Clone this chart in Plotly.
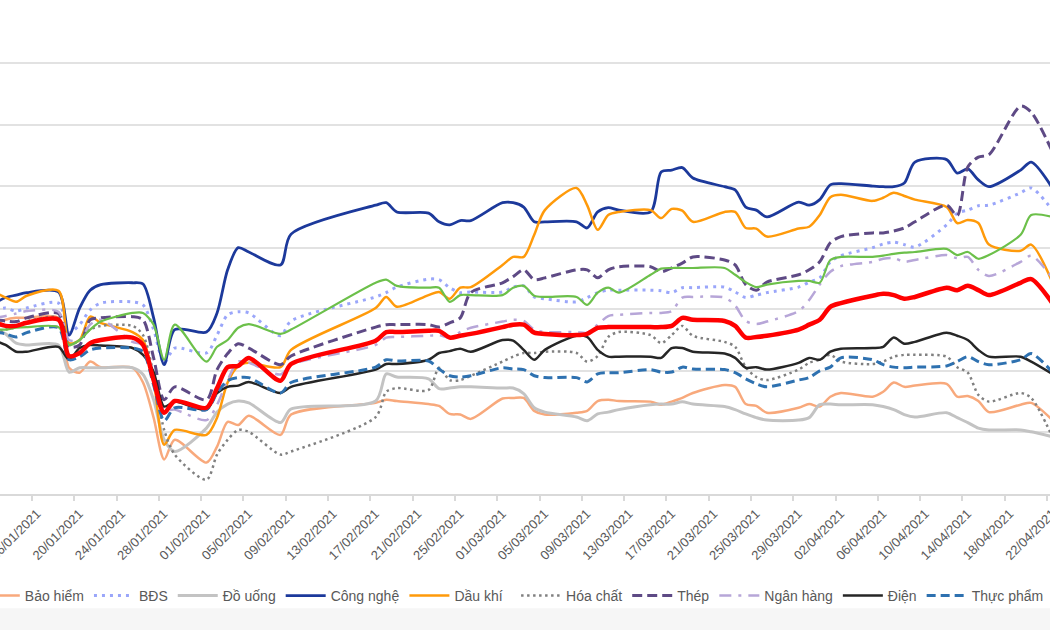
import pandas as pd
import plotly.graph_objects as go

dates = [
    "2021-01-12", "2021-01-13", "2021-01-14", "2021-01-15", "2021-01-18", "2021-01-19", "2021-01-20",
    "2021-01-21", "2021-01-22", "2021-01-25", "2021-01-26", "2021-01-27", "2021-01-28", "2021-01-29",
    "2021-02-01", "2021-02-02", "2021-02-03", "2021-02-04", "2021-02-05", "2021-02-08", "2021-02-09",
    "2021-02-17", "2021-02-18", "2021-02-19", "2021-02-22", "2021-02-23", "2021-02-24", "2021-02-25",
    "2021-02-26",
    "2021-03-01", "2021-03-02", "2021-03-03", "2021-03-04", "2021-03-05", "2021-03-08", "2021-03-09",
    "2021-03-10", "2021-03-11", "2021-03-12", "2021-03-15", "2021-03-16", "2021-03-17", "2021-03-18",
    "2021-03-19", "2021-03-22", "2021-03-23", "2021-03-24", "2021-03-25", "2021-03-26", "2021-03-29",
    "2021-03-30", "2021-03-31",
    "2021-04-01", "2021-04-02", "2021-04-05", "2021-04-06", "2021-04-07", "2021-04-08", "2021-04-09",
    "2021-04-12", "2021-04-13", "2021-04-14", "2021-04-15", "2021-04-16", "2021-04-19", "2021-04-20",
    "2021-04-22",
]

# Performance (%) of each sector index
bao_hiem = [7.5, 8.3, 8.6, 8.6, 8.6, 0.5, -0.3, 1.5, 0.6, 0.5, -1.9, -7.6, -14.4, -11.2,
            -14.9, -12.3, -8.3, -8.8, -7.3, -10.4, -7.1, -5.2, -4.7, -4.9, -5.4, -5.7, -7.0, -7.1, -7.8,
            -4.5, -4.4, -4.4, -6.5, -7.1, -6.8, -6.5, -4.9, -4.7, -4.9, -5.0, -5.5, -5.0, -4.4, -3.6, -2.3,
            -2.6, -5.4, -5.7, -6.8, -6.0, -5.4, -5.8,
            -4.2, -3.6, -4.2, -3.4, -1.9, -2.6, -2.4, -2.1, -4.2, -4.1, -4.9, -6.7, -5.5, -5.2, -8.0]
bds = [9.9, 10.2, 9.7, 10.2, 11.0, 6.2, 7.5, 9.9, 11.0, 11.2, 10.7, 6.7, 1.3, 3.7,
       2.9, 5.8, 9.1, 9.6, 9.4, 5.7, 8.1, 12.0, 12.7, 13.6, 14.9, 14.8, 13.5, 12.7, 12.8,
       12.8, 13.6, 13.8, 12.0, 11.7, 11.2, 11.9, 12.7, 13.1, 13.1, 13.1, 13.0, 12.7, 13.5, 13.5, 13.6,
       12.8, 11.9, 12.3, 12.7, 13.6, 14.4, 15.1,
       17.7, 18.7, 20.0, 20.6, 20.9, 20.5, 20.1, 23.7, 25.6, 26.1, 26.8, 26.9, 28.9, 29.7, 26.1]
do_uong = [6.7, 6.0, 4.5, 4.2, 4.2, -0.2, 0.5, 0.5, 0.5, 0.5, -0.6, -4.7, -11.2, -13.1,
           -9.3, -6.7, -5.4, -4.9, -5.2, -8.4, -6.2, -4.9, -0.5, -1.0, -1.3, -2.9, -2.8, -2.6, -2.6,
           -2.8, -2.8, -3.7, -6.0, -6.7, -7.5, -8.1, -7.0, -6.7, -6.3, -5.5, -5.4, -5.4, -5.0, -5.4, -5.8,
           -6.3, -7.0, -7.6, -8.0, -8.0, -7.6, -5.5,
           -5.4, -5.5, -5.5, -5.8, -6.3, -7.1, -7.5, -6.8, -7.6, -8.4, -9.3, -9.6, -9.6, -9.9, -10.7]
cong_nghe = [11.0, 11.9, 12.3, 12.7, 12.8, 5.8, 10.2, 13.1, 14.0, 14.3, 14.1, 8.6, 1.0, 6.7,
             6.3, 9.4, 16.4, 20.0, 19.3, 17.2, 22.2, 26.9, 27.3, 25.8, 25.6, 24.2, 23.7, 24.4, 24.4,
             27.3, 27.3, 26.6, 24.2, 24.2, 24.2, 23.2, 25.8, 26.5, 26.1, 25.8, 32.3, 32.6, 33.0, 31.3, 29.9,
             29.4, 26.6, 26.1, 25.0, 27.4, 26.9, 27.8,
             30.2, 30.4, 30.0, 29.9, 29.9, 30.5, 33.9, 34.3, 32.1, 32.8, 31.0, 29.9, 32.6, 33.9, 29.7]
dau_khi = [12.7, 11.9, 11.2, 12.2, 13.0, 4.5, 5.0, 8.8, 7.8, 6.3, 5.0, -1.5, -12.0, -9.6,
           -10.4, -7.6, -1.9, 0.8, 1.3, 0.6, 3.4, 10.2, 12.0, 10.4, 12.3, 12.8, 11.7, 13.5, 13.6,
           17.2, 18.5, 18.5, 22.1, 26.1, 29.7, 26.9, 22.9, 25.3, 25.8, 26.1, 24.8, 26.3, 26.0, 24.2, 25.8,
           25.8, 23.2, 23.1, 21.8, 23.1, 23.4, 25.3,
           28.2, 28.6, 27.6, 28.1, 28.9, 28.4, 27.8, 26.6, 24.0, 24.5, 24.0, 20.5, 19.5, 20.5, 14.4]
hoa_chat = [5.8, 6.7, 7.1, 8.0, 8.6, 4.2, 5.0, 6.7, 7.3, 7.3, 5.8, -0.6, -9.6, -13.6,
            -17.7, -13.6, -11.2, -9.6, -9.9, -13.6, -13.1, -7.5, -3.4, -2.8, -3.1, 0.5, -1.5, -1.5, -0.8,
            1.5, 2.3, 2.9, 2.9, 3.1, 2.9, 1.5, 2.4, 5.5, 6.3, 5.8, 4.5, 5.8, 7.3, 5.7, 4.7,
            3.9, 0.6, -1.0, -1.5, 0.2, 1.3, 1.8,
            2.6, 1.5, 1.1, 1.5, 2.3, 2.6, 2.6, 2.3, 0.6, -0.3, -3.9, -5.0, -3.6, -4.4, -10.7]
thep = [8.3, 8.1, 8.0, 8.6, 9.3, 3.9, 4.2, 8.3, 8.6, 8.8, 8.3, 2.1, -4.7, -2.6,
        -4.7, 0.2, 2.8, 4.4, 3.7, 1.0, 2.4, 7.1, 7.5, 7.5, 7.5, 7.1, 7.8, 8.6, 12.7,
        14.3, 15.3, 16.4, 14.8, 15.1, 16.4, 16.4, 15.1, 16.4, 16.9, 16.9, 16.1, 16.7, 17.5, 18.5, 18.0,
        17.2, 14.0, 13.1, 14.4, 15.6, 16.4, 17.7,
        20.8, 21.8, 22.4, 22.4, 22.7, 23.2, 24.2, 26.9, 25.2, 33.1, 34.7, 35.1, 43.0, 42.0, 35.6]
ngan_hang = [8.6, 8.9, 9.3, 9.7, 9.6, 5.0, 5.0, 7.5, 8.3, 4.7, 4.2, -0.6, -6.3, -6.3,
             -8.0, -5.5, -1.5, 1.5, 1.3, -0.6, 1.0, 4.2, 5.4, 5.5, 5.7, 5.8, 5.4, 6.3, 7.0,
             8.0, 8.3, 8.1, 6.7, 6.3, 6.3, 6.2, 7.5, 8.9, 9.1, 9.4, 9.4, 9.7, 11.9, 12.0, 11.9,
             10.6, 8.1, 7.6, 8.0, 9.7, 11.5, 14.0,
             16.1, 17.0, 17.7, 18.2, 18.3, 17.7, 18.0, 18.8, 18.3, 18.5, 16.4, 15.4, 17.7, 18.7, 15.1]
dien = [4.9, 4.2, 3.1, 3.1, 3.9, 1.8, 3.7, 4.2, 4.1, 3.7, 2.6, -0.2, -5.8, -5.0,
        -6.3, -3.6, -2.6, -2.4, -1.8, -3.6, -2.6, 0.2, 1.1, 1.1, 1.8, 2.9, 3.2, 3.6, 3.1,
        5.0, 4.9, 3.4, 1.8, 3.4, 5.7, 5.5, 3.4, 2.3, 2.3, 2.3, 2.1, 3.7, 3.7, 3.1, 2.8,
        2.1, 0.5, 0.6, 0.2, 1.3, 2.1, 1.8,
        3.1, 3.6, 3.7, 3.9, 5.4, 4.4, 4.7, 6.2, 5.7, 5.0, 3.4, 2.3, 2.3, 1.5, -0.5]
thuc_pham = [6.3, 6.0, 5.5, 6.2, 7.0, 1.8, 2.3, 3.4, 3.7, 3.7, 3.1, -2.3, -8.1, -6.0,
             -6.3, -3.6, -1.6, -1.1, -1.1, -3.6, -1.9, 0.6, 1.8, 1.6, 1.6, 0.3, -0.8, -1.0, -0.8,
             0.5, 0.3, 0.2, -0.8, -1.1, -1.1, -1.8, -0.5, -0.3, -0.3, 0.2, -0.2, -0.2, 0.6, 0.3, 0.2,
             -0.3, -1.3, -2.1, -2.6, -1.5, -1.1, 0.0,
             0.6, 2.1, 1.8, 1.0, 0.6, 0.5, 0.6, 0.8, 1.5, 2.3, 1.5, 1.0, 1.8, 2.8, -0.2]
xay_dung = [6.7, 6.7, 7.0, 7.1, 7.1, 4.2, 5.0, 6.7, 8.0, 9.4, 9.4, 7.5, 1.8, 7.5,
            1.5, 3.9, 5.0, 7.0, 7.6, 6.0, 6.7, 14.3, 14.8, 13.8, 13.5, 13.5, 11.2, 12.3, 12.3,
            12.3, 13.5, 13.8, 12.2, 12.0, 12.0, 10.7, 12.7, 13.5, 12.7, 15.6, 16.6, 16.7, 16.7, 16.7, 16.7,
            15.6, 14.4, 13.6, 14.0, 14.6, 14.6, 14.3,
            18.0, 18.5, 18.5, 18.7, 19.0, 19.2, 19.3, 19.8, 18.8, 19.3, 18.2, 18.8, 22.1, 25.3, 25.0]
vn_index = [7.8, 7.3, 7.3, 7.8, 8.3, 2.4, 2.9, 4.5, 5.0, 5.4, 4.2, -1.5, -6.8, -4.9,
            -6.0, -2.8, 0.6, 0.8, 2.1, -1.6, 1.1, 4.9, 6.3, 6.3, 6.5, 6.5, 5.4, 5.7, 6.0,
            7.1, 7.5, 7.5, 6.2, 6.0, 5.8, 6.0, 7.0, 7.1, 7.1, 7.1, 7.1, 7.3, 8.6, 8.3, 8.1,
            7.3, 5.4, 5.5, 5.7, 6.7, 7.5, 8.3,
            10.4, 11.0, 12.2, 12.5, 12.3, 11.7, 12.0, 13.5, 13.1, 13.8, 13.1, 12.3, 14.3, 14.9, 11.0]

# name, values, color, width, dash, legend
series = [
    ("Bảo hiểm", bao_hiem, "#F8A97C", 2.5, "solid", "legend"),
    ("BĐS", bds, "#9AA6FA", 3, "3px,5px", "legend"),
    ("Đồ uống", do_uong, "#C3C3C3", 3, "solid", "legend"),
    ("Công nghệ", cong_nghe, "#1C399B", 2.8, "solid", "legend"),
    ("Dầu khí", dau_khi, "#FF9A0A", 2.5, "solid", "legend"),
    ("Hóa chất", hoa_chat, "#808080", 2.5, "2.5px,3.5px", "legend2"),
    ("Thép", thep, "#5E4A85", 3, "10px,5px", "legend2"),
    ("Ngân hàng", ngan_hang, "#B7A6D8", 2.5, "12px,7px,3px,7px", "legend2"),
    ("Điện", dien, "#262626", 2.5, "solid", "legend2"),
    ("Thực phẩm", thuc_pham, "#2E71B0", 3, "9px,5px", "legend2"),
    ("Xây dựng", xay_dung, "#6CC04A", 2.2, "solid", None),
    ("VN-Index", vn_index, "#FF0000", 4.5, "solid", None),
]

# Excel date axis draws each daily point in the middle of its day slot
x = pd.to_datetime(dates) + pd.Timedelta(hours=12)

fig = go.Figure()
for name, vals, color, width, dash, leg in series:
    assert len(vals) == len(dates), name
    fig.add_trace(go.Scatter(
        x=x, y=vals, name=name, mode="lines",
        line=dict(color=color, width=width, dash=dash, shape="spline", smoothing=0.8),
        showlegend=leg is not None, legend=leg if leg else "legend",
        hoverinfo="skip",
    ))

font_fam = "Liberation Sans, Arial, sans-serif"
legend_common = dict(
    orientation="h", yanchor="middle", y=-0.236, xanchor="left",
    itemwidth=40, font=dict(family=font_fam, size=14, color="#595959"),
    bgcolor="rgba(0,0,0,0)", traceorder="normal",
)

y_top = 50

fig.update_layout(
    template="none",
    width=1050, height=630,
    margin=dict(l=0, r=0, t=62, b=136, autoexpand=False),
    paper_bgcolor="white", plot_bgcolor="white",
    font=dict(family=font_fam, color="#595959"),
    legend=dict(x=-0.024, **legend_common),
    legend2=dict(x=0.4915, **legend_common),
    xaxis=dict(
        type="date",
        range=["2021-01-12 23:20", "2021-04-22 06:40"],
        tick0="2021-01-16", dtick=4 * 86400000,
        tickformat="%d/%m/%Y", tickangle=-45,
        tickfont=dict(family=font_fam, size=13, color="#595959"),
        ticklabeloverflow="allow", ticklabelshift=5,
        ticks="outside", ticklen=5, tickcolor="#D9D9D9", tickwidth=1.5,
        showline=True, linecolor="#D9D9D9", linewidth=2,
        showgrid=False, zeroline=False, automargin=False,
    ),
    yaxis=dict(
        range=[-20, y_top + 0.15], dtick=10, tick0=0,
        showticklabels=False, ticks="",
        showgrid=True, gridcolor="#E2E2E2", gridwidth=2,
        zeroline=False, showline=False, automargin=False,
    ),
    shapes=[
        dict(type="rect", xref="paper", yref="paper", x0=-0.01, x1=1.01, y0=-0.2645, y1=-0.33,
             fillcolor="#F6F6F6", line=dict(width=0), layer="below"),
        dict(type="line", xref="paper", yref="y", x0=0, x1=1, y0=y_top, y1=y_top,
             line=dict(color="#E2E2E2", width=2), layer="below"),
    ],
)

fig.write_html("out.html")
